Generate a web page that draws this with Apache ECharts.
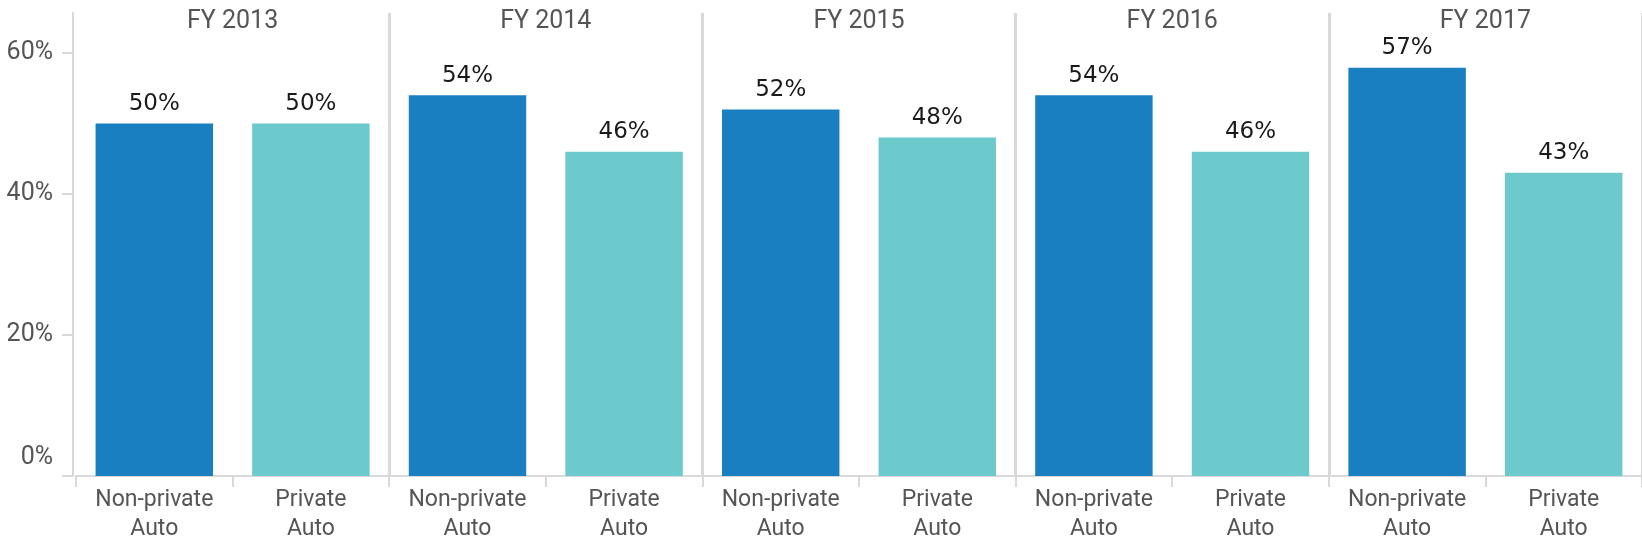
<!DOCTYPE html>
<html>
<head>
<meta charset="utf-8">
<script src="https://cdn.jsdelivr.net/npm/echarts@6/dist/echarts.min.js"></script>
<style>
html,body{margin:0;padding:0;background:#fff;}
#chart{width:1642px;height:548px;}
</style>
</head>
<body>
<div id="chart"></div>
<script>
// ---- data ----
var groups = ['FY 2013', 'FY 2014', 'FY 2015', 'FY 2016', 'FY 2017'];
var modes = ['Non-private\nAuto', 'Private\nAuto'];
var nonPrivate = [50, 54, 52, 54, 57.9];
var privateAuto = [50, 46, 48, 46, 43];
var nonPrivateLabels = ['50%', '54%', '52%', '54%', '57%'];
var privateLabels = ['50%', '46%', '48%', '46%', '43%'];
var yTicks = [0, 20, 40, 60];

// ---- build ----
var categories = [], values = [], labels = [];
for (var i = 0; i < groups.length; i++) {
  categories.push(modes[0]); values.push(nonPrivate[i]); labels.push(nonPrivateLabels[i]);
  categories.push(modes[1]); values.push(privateAuto[i]); labels.push(privateLabels[i]);
}
var colors = ['#197FC1', '#6CCACC'];
var gray = '#d9d9d9';
var chart = echarts.init(document.getElementById('chart'), null, {renderer: 'canvas'});
chart.setOption({
  animation: false,
  grid: {left: 76, right: 0, top: 13, bottom: 72, containLabel: false},
  xAxis: [
    {
      type: 'category', data: categories, position: 'bottom',
      axisLine: {show: true, lineStyle: {color: gray, width: 2}},
      axisTick: {show: true, length: 11, lineStyle: {color: gray, width: 2}},
      axisLabel: {interval: 0, margin: 10, color: '#555', fontFamily: 'Roboto, sans-serif', fontSize: 23, lineHeight: 29},
      splitLine: {show: false}
    },
    {
      type: 'category', data: groups, position: 'top',
      axisLine: {show: false},
      axisTick: {show: false},
      axisLabel: {interval: 0, margin: -9, verticalAlign: 'middle', color: '#555', fontFamily: 'Roboto, sans-serif', fontSize: 25},
      splitLine: {show: true, interval: function (idx) { return idx !== 0; }, lineStyle: {color: gray, width: 3}}
    }
  ],
  yAxis: {
    type: 'value', min: 0, max: 65.67, interval: 20, offset: 3,
    axisLine: {show: true, lineStyle: {color: gray, width: 2}},
    axisTick: {show: true, length: 11, lineStyle: {color: gray, width: 2}, customValues: yTicks},
    axisLabel: {
      margin: 20, color: '#555', fontFamily: 'Roboto, sans-serif', fontSize: 25,
      customValues: yTicks,
      formatter: function (v) { return v === 0 ? '{z|0%}' : v + '%'; },
      rich: {z: {fontFamily: 'Roboto, sans-serif', fontSize: 25, color: '#555', padding: [0, 0, 36, 0]}}
    },
    splitLine: {show: false}
  },
  series: [{
    type: 'bar', xAxisIndex: 0, data: values, barWidth: '75%',
    itemStyle: {color: function (p) { return colors[p.dataIndex % 2]; }},
    label: {
      show: true, position: 'top', distance: 8, color: '#1a1a1a',
      fontFamily: '"DejaVu Sans", sans-serif', fontSize: 23,
      formatter: function (p) { return labels[p.dataIndex]; }
    }
  }]
});
</script>
</body>
</html>
